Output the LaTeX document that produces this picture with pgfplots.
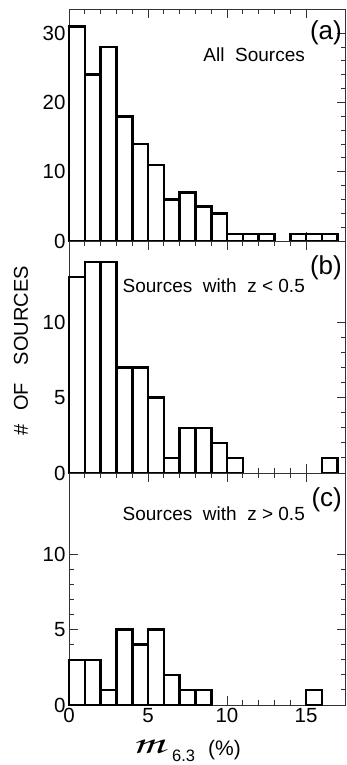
\documentclass[border=0pt]{standalone}
\usepackage{fontspec}
\setmainfont{Liberation Sans}
\usepackage{pgfplots}
\pgfplotsset{compat=1.18}
\begin{document}
\begin{tikzpicture}
\pgfplotsset{
  panel/.style={scale only axis, width=276.5bp, height=232bp,
    xmin=0, xmax=17.5, xtick={0,5,10,15}, minor x tick num=4, clip=false,
    axis line style={black!80, line width=0.9bp},
    major tick length=9bp, minor tick length=5bp,
    every tick/.append style={black!80, line width=0.9bp},
    tick align=inside,
    ticklabel style={font=\fontsize{20.5bp}{24bp}\selectfont},
    /pgf/number format/assume math mode=true,
  },
  bars/.style={ybar interval, fill=white, draw=black, line width=2.6bp, line join=miter},
}
% panel (a)
\begin{axis}[panel, name=pa, at={(69bp,-9bp)}, anchor=north west,
  ymin=0, ymax=33.5, ytick={0,10,20,30}, minor y tick num=4, xticklabels={}]
\addplot[bars] coordinates {(0,31) (1,24) (2,28) (3,18) (4,14) (5,11) (6,6) (7,7) (8,5) (9,4) (10,1) (11,1) (12,1) (13,1)};
\addplot[bars] coordinates {(14,1) (15,1) (16,1) (17,1)};
\node[anchor=north east, inner sep=0pt, font=\fontsize{26bp}{30bp}\selectfont] at (axis cs:17.28,31.8) {(a)};
\node[anchor=base east, inner sep=0pt, font=\fontsize{19bp}{23bp}\selectfont] at (axis cs:14.94,25.85) {All\ \ Sources};
\end{axis}
% panel (b)
\begin{axis}[panel, name=pb, at={(pa.south west)}, anchor=north west,
  ymin=0, ymax=15.4, ytick={0,5,10}, minor y tick num=4, xticklabels={}]
\addplot[bars] coordinates {(0,13) (1,14) (2,14) (3,7) (4,7) (5,5) (6,1) (7,3) (8,3) (9,2) (10,1) (11,1)};
\addplot[bars] coordinates {(16,1) (17,1)};
\node[anchor=north east, inner sep=0pt, font=\fontsize{26bp}{30bp}\selectfont] at (axis cs:17.28,14.47) {(b)};
\node[anchor=base east, inner sep=0pt, font=\fontsize{19bp}{23bp}\selectfont] at (axis cs:14.94,11.95) {Sources\ \ with\ \ z < 0.5};
\end{axis}
% panel (c)
\begin{axis}[panel, name=pc, at={(pb.south west)}, anchor=north west,
  ymin=0, ymax=15.4, ytick={0,5,10}, minor y tick num=4]
\addplot[bars] coordinates {(0,3) (1,3) (2,1) (3,5) (4,4) (5,5) (6,2) (7,1) (8,1) (9,1)};
\addplot[bars] coordinates {(15,1) (16,1)};
\node[anchor=north east, inner sep=0pt, font=\fontsize{26bp}{30bp}\selectfont] at (axis cs:17.28,14.41) {(c)};
\node[anchor=base east, inner sep=0pt, font=\fontsize{19bp}{23bp}\selectfont] at (axis cs:14.94,12.28) {Sources\ \ with\ \ z > 0.5};
\end{axis}
% y label
\node[rotate=90, inner sep=0pt, font=\fontsize{20bp}{24bp}\selectfont] at (21bp,-351bp) {\#\hspace{14bp}OF\hspace{18bp}SOURCES};
% x label
\node[anchor=base west, inner sep=0pt] at (132bp,-753bp) {\scalebox{1.55}[1]{\fontencoding{OT1}\fontfamily{pzc}\fontseries{mb}\fontshape{it}\fontsize{33bp}{33bp}\selectfont m}};
\node[anchor=base west, inner sep=0pt, font=\fontsize{16.5bp}{18bp}\selectfont] at (172bp,-761bp) {6.3};
\node[anchor=base west, inner sep=0pt, font=\fontsize{21bp}{24bp}\selectfont] at (208bp,-755bp) {(\%)};
\pgfresetboundingbox
\useasboundingbox (0,0) rectangle (347bp,-765bp);
\end{tikzpicture}
\end{document}
